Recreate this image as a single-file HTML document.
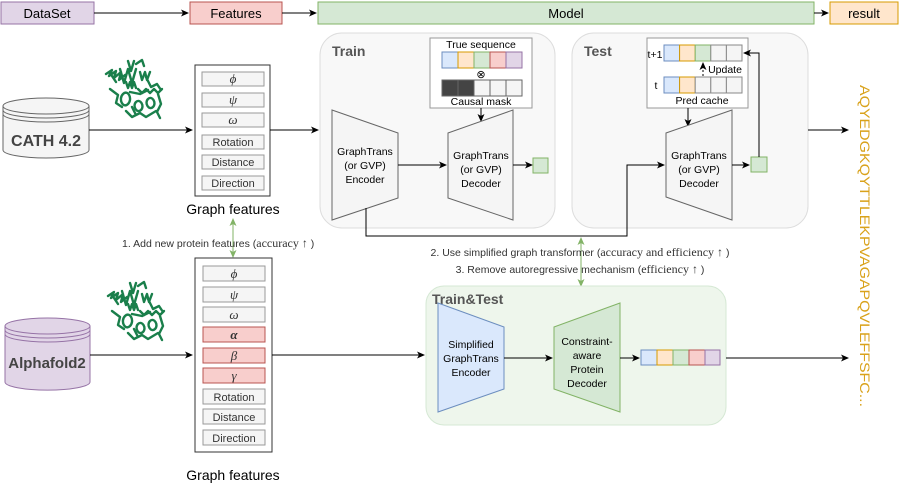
<!DOCTYPE html>
<html><head><meta charset="utf-8"><style>
html,body{margin:0;padding:0;background:#fff;}
svg{display:block;font-family:"Liberation Sans",sans-serif;}
</style></head><body>
<svg width="900" height="487" viewBox="0 0 900 487" xmlns="http://www.w3.org/2000/svg">
<defs>
<marker id="a" markerWidth="8" markerHeight="8" refX="7" refY="4" orient="auto" markerUnits="userSpaceOnUse"><path d="M0,0.5 L8,4 L0,7.5 L2,4z" fill="#000"/></marker>
<marker id="g" markerWidth="8" markerHeight="8" refX="7" refY="4" orient="auto-start-reverse" markerUnits="userSpaceOnUse"><path d="M0,0.5 L8,4 L0,7.5 L2,4z" fill="#82b366"/></marker>
<g id="prot" stroke="#1a7f4b" stroke-width="2.4" fill="none" stroke-linecap="round" stroke-linejoin="round">
<path d="M0,12 l6,-4 l-3,6 l7,-5 l-2,7 l7,-6 l-2,8 l6,-5 M14,7 l4,14 l4,-14 l4,14 l4,-14 M22,-1 l3,10 l3,-10 M30,2 l6,-4 l2,6"/>
<path d="M4,27 l8,6 l-2,8 l6,4 M17,32 c5,-5 10,5 5,10 c-5,5 -10,-5 -5,-10z M20,20 l2,6 l2,-6 l2,6 l2,-6 l2,6"/>
<path d="M32,27 l4,4 l4,-4 l4,4 l4,-4 l4,4 l4,-4 M42,37 c4,-4 9,4 5,8 c-4,4 -9,-4 -5,-8z M30,40 c4,-4 9,4 5,8 c-4,4 -9,-4 -5,-8z"/>
<path d="M20,49 l6,6 l8,-4 l6,4 l10,-6 M52,32 l3,10 l-4,8 l3,6 M26,45 l4,8 M10,20 l-4,-6 M40,15 l5,10 l6,-3 l4,6"/>
<path d="M34,10 l2,8 l3,-8 l2,8 l3,-8 M24,30 l10,2 l8,-4"/>
</g>
</defs>
<!-- header -->
<rect x="1" y="2" width="93" height="22" fill="#e1d5e7" stroke="#9673a6"/>
<text x="47" y="18" font-size="13" text-anchor="middle">DataSet</text>
<rect x="190" y="2" width="92" height="22" fill="#f8cecc" stroke="#b85450"/>
<text x="236" y="18" font-size="13" text-anchor="middle">Features</text>
<rect x="318" y="2" width="496" height="22" fill="#d5e8d4" stroke="#82b366"/>
<text x="566" y="18" font-size="13" text-anchor="middle">Model</text>
<rect x="830" y="2" width="68" height="22" fill="#ffe6cc" stroke="#d79b00"/>
<text x="864" y="18" font-size="13" text-anchor="middle">result</text>
<g stroke="#000" fill="none">
<line x1="94" y1="13" x2="188" y2="13" marker-end="url(#a)"/>
<line x1="282" y1="13" x2="316" y2="13" marker-end="url(#a)"/>
<line x1="814" y1="13" x2="828" y2="13" marker-end="url(#a)"/>
</g>

<!-- CATH cylinder -->
<g stroke="#666" fill="#f5f5f5">
<path d="M3,106 L3,150 A43,8 0 0 0 89,150 L89,106"/>
<ellipse cx="46" cy="106" rx="43" ry="8"/>
<path d="M3,110 A43,8 0 0 0 89,110 M3,114 A43,8 0 0 0 89,114" fill="none"/>
</g>
<text x="46" y="146" font-size="16" font-weight="bold" fill="#444" text-anchor="middle">CATH 4.2</text>
<line x1="89" y1="130" x2="192" y2="130" stroke="#000" marker-end="url(#a)"/>

<use href="#prot" x="106" y="62"/>

<!-- Graph features 1 -->
<rect x="195" y="65" width="75" height="131" fill="#fff" stroke="#333"/>
<g fill="#f5f5f5" stroke="#999">
<rect x="202" y="72" width="62" height="14"/><rect x="202" y="93" width="62" height="14"/><rect x="202" y="113" width="62" height="14"/>
<rect x="202" y="135" width="62" height="14"/><rect x="202" y="155" width="62" height="14"/><rect x="202" y="176" width="62" height="14"/>
</g>
<g font-size="11" text-anchor="middle" fill="#333">
<text x="233" y="83" font-family="Liberation Serif,serif" font-style="italic" font-size="13">ϕ</text>
<text x="233" y="104" font-family="Liberation Serif,serif" font-style="italic" font-size="13">ψ</text>
<text x="233" y="124" font-family="Liberation Serif,serif" font-style="italic" font-size="13">ω</text>
<text x="233" y="146">Rotation</text><text x="233" y="166">Distance</text><text x="233" y="187">Direction</text>
</g>
<text x="233" y="214" font-size="14" text-anchor="middle">Graph features</text>
<line x1="270" y1="130" x2="318" y2="130" stroke="#000" marker-end="url(#a)"/>

<!-- Train -->
<rect x="320" y="33" width="235" height="195" rx="22" fill="#f8f8f8" stroke="#ddd"/>
<text x="332" y="56" font-size="14" font-weight="bold" fill="#555">Train</text>
<rect x="430" y="38" width="102" height="70" fill="#fff" stroke="#999"/>
<text x="481" y="48" font-size="10.5" text-anchor="middle">True sequence</text>
<rect x="442" y="52" width="16" height="16" fill="#dae8fc" stroke="#6c8ebf"/>
<rect x="458" y="52" width="16" height="16" fill="#ffe6cc" stroke="#d79b00"/>
<rect x="474" y="52" width="16" height="16" fill="#d5e8d4" stroke="#82b366"/>
<rect x="490" y="52" width="16" height="16" fill="#f8cecc" stroke="#b85450"/>
<rect x="506" y="52" width="16" height="16" fill="#e1d5e7" stroke="#9673a6"/>
<text x="481" y="78" font-size="11" text-anchor="middle">⊗</text>
<g stroke="#666"><rect x="442" y="80" width="16" height="16" fill="#444"/><rect x="458" y="80" width="16" height="16" fill="#444"/>
<rect x="474" y="80" width="16" height="16" fill="#f5f5f5"/><rect x="490" y="80" width="16" height="16" fill="#f5f5f5"/><rect x="506" y="80" width="16" height="16" fill="#f5f5f5"/></g>
<text x="481" y="105" font-size="10.5" text-anchor="middle">Causal mask</text>
<line x1="481" y1="108" x2="481" y2="121" stroke="#000" marker-end="url(#a)"/>
<polygon points="332,110 398,133 398,198 332,220" fill="#f5f5f5" stroke="#666"/>
<g font-size="10.5" text-anchor="middle"><text x="365" y="155">GraphTrans</text><text x="365" y="169">(or GVP)</text><text x="365" y="183">Encoder</text></g>
<line x1="398" y1="165" x2="446" y2="165" stroke="#000" marker-end="url(#a)"/>
<polygon points="448,133 513,110 513,220 448,198" fill="#f5f5f5" stroke="#666"/>
<g font-size="10.5" text-anchor="middle"><text x="481" y="159">GraphTrans</text><text x="481" y="173">(or GVP)</text><text x="481" y="187">Decoder</text></g>
<line x1="513" y1="165" x2="532" y2="165" stroke="#000" marker-end="url(#a)"/>
<rect x="533" y="158" width="15" height="15" fill="#d5e8d4" stroke="#82b366"/>

<!-- Test -->
<rect x="572" y="33" width="236" height="195" rx="22" fill="#f8f8f8" stroke="#ddd"/>
<text x="584" y="56" font-size="14" font-weight="bold" fill="#555">Test</text>
<rect x="647" y="38" width="101" height="70" fill="#fff" stroke="#999"/>
<text x="655" y="58" font-size="10.5" text-anchor="middle">t+1</text>
<rect x="664" y="45" width="15.6" height="16" fill="#dae8fc" stroke="#6c8ebf"/>
<rect x="679.6" y="45" width="15.6" height="16" fill="#ffe6cc" stroke="#d79b00"/>
<rect x="695.2" y="45" width="15.6" height="16" fill="#d5e8d4" stroke="#82b366"/>
<rect x="710.8" y="45" width="15.6" height="16" fill="#f5f5f5" stroke="#888"/>
<rect x="726.4" y="45" width="15.6" height="16" fill="#f5f5f5" stroke="#888"/>
<text x="656" y="89" font-size="10.5" text-anchor="middle">t</text>
<rect x="664" y="77" width="15.6" height="16" fill="#dae8fc" stroke="#6c8ebf"/>
<rect x="679.6" y="77" width="15.6" height="16" fill="#ffe6cc" stroke="#d79b00"/>
<rect x="695.2" y="77" width="15.6" height="16" fill="#f5f5f5" stroke="#888"/>
<rect x="710.8" y="77" width="15.6" height="16" fill="#f5f5f5" stroke="#888"/>
<rect x="726.4" y="77" width="15.6" height="16" fill="#f5f5f5" stroke="#888"/>
<line x1="703" y1="76" x2="703" y2="63" stroke="#000" stroke-dasharray="2,2" marker-end="url(#a)"/>
<text x="725" y="73" font-size="10.5" text-anchor="middle">Update</text>
<text x="702" y="104" font-size="10.5" text-anchor="middle">Pred cache</text>
<line x1="688" y1="108" x2="688" y2="126" stroke="#000" marker-end="url(#a)"/>
<polygon points="666,133 732,110 732,220 666,197" fill="#f5f5f5" stroke="#666"/>
<g font-size="10.5" text-anchor="middle"><text x="699" y="159">GraphTrans</text><text x="699" y="173">(or GVP)</text><text x="699" y="187">Decoder</text></g>
<line x1="732" y1="165" x2="749" y2="165" stroke="#000" marker-end="url(#a)"/>
<rect x="751" y="157" width="16" height="15" fill="#d5e8d4" stroke="#82b366"/>
<polyline points="759,157 759,53 744,53" fill="none" stroke="#000" marker-end="url(#a)"/>
<line x1="808" y1="130" x2="848" y2="130" stroke="#000" marker-end="url(#a)"/>

<polyline points="366,208 366,236 627,236 627,165 664,165" fill="none" stroke="#000" marker-end="url(#a)"/>

<text transform="translate(860,85) rotate(90)" font-size="13.5" fill="#d9a21b" textLength="322" lengthAdjust="spacingAndGlyphs">AQYEDGKQYTTLEKPVAGAPQVLEFFSFC...</text>

<line x1="233" y1="219" x2="233" y2="257" stroke="#82b366" marker-start="url(#g)" marker-end="url(#g)"/>
<line x1="581" y1="238" x2="581" y2="286" stroke="#82b366" marker-start="url(#g)" marker-end="url(#g)"/>
<text x="122" y="247" font-size="10.5" fill="#333">1. Add new protein features (<tspan font-family="Liberation Serif,serif" font-size="12">accuracy ↑</tspan> )</text>
<text x="580" y="256" font-size="10.5" fill="#333" text-anchor="middle">2. Use simplified graph transformer (<tspan font-family="Liberation Serif,serif" font-size="12">accuracy and efficiency ↑</tspan> )</text>
<text x="580" y="273" font-size="10.5" fill="#333" text-anchor="middle">3. Remove autoregressive mechanism (<tspan font-family="Liberation Serif,serif" font-size="12">efficiency ↑</tspan> )</text>

<!-- Alphafold cylinder -->
<g stroke="#9673a6" fill="#e1d5e7">
<path d="M5,326 L5,382 A42,8 0 0 0 90,382 L90,326"/>
<ellipse cx="47.5" cy="326" rx="42.5" ry="8"/>
<path d="M5,330 A42.5,8 0 0 0 90,330 M5,334 A42.5,8 0 0 0 90,334" fill="none"/>
</g>
<text x="47" y="368" font-size="15" font-weight="bold" fill="#444" text-anchor="middle">Alphafold2</text>
<line x1="90" y1="355" x2="192" y2="355" stroke="#000" marker-end="url(#a)"/>

<use href="#prot" x="108" y="284"/>

<!-- Graph features 2 -->
<rect x="195" y="258" width="77" height="194" fill="#fff" stroke="#333"/>
<g fill="#f5f5f5" stroke="#999">
<rect x="203" y="266" width="62" height="15"/><rect x="203" y="287" width="62" height="15"/><rect x="203" y="307" width="62" height="15"/>
<rect x="203" y="389" width="62" height="15"/><rect x="203" y="409" width="62" height="15"/><rect x="203" y="430" width="62" height="15"/>
</g>
<g fill="#f8cecc" stroke="#b85450">
<rect x="203" y="327" width="62" height="15"/><rect x="203" y="348" width="62" height="15"/><rect x="203" y="368" width="62" height="15"/>
</g>
<g font-size="11" text-anchor="middle" fill="#333">
<text x="234" y="278" font-family="Liberation Serif,serif" font-style="italic" font-size="13">ϕ</text>
<text x="234" y="299" font-family="Liberation Serif,serif" font-style="italic" font-size="13">ψ</text>
<text x="234" y="319" font-family="Liberation Serif,serif" font-style="italic" font-size="13">ω</text>
<text x="234" y="339" font-family="Liberation Serif,serif" font-style="italic" font-weight="bold" font-size="13">α</text>
<text x="234" y="360" font-family="Liberation Serif,serif" font-style="italic" font-size="13">β</text>
<text x="234" y="380" font-family="Liberation Serif,serif" font-style="italic" font-size="13">γ</text>
<text x="234" y="401">Rotation</text><text x="234" y="421">Distance</text><text x="234" y="442">Direction</text>
</g>
<text x="233" y="480" font-size="14" text-anchor="middle">Graph features</text>
<line x1="272" y1="355" x2="424" y2="355" stroke="#000" marker-end="url(#a)"/>

<!-- Train&Test -->
<rect x="426" y="286" width="300" height="139" rx="18" fill="#eef6ec" stroke="#d5e8d4"/>
<text x="432" y="304" font-size="14" font-weight="bold" fill="#555">Train&amp;Test</text>
<polygon points="438,303 504,327 504,389 438,412" fill="#dae8fc" stroke="#6c8ebf"/>
<g font-size="10.5" text-anchor="middle"><text x="471" y="348">Simplified</text><text x="471" y="362">GraphTrans</text><text x="471" y="376">Encoder</text></g>
<line x1="504" y1="358" x2="552" y2="358" stroke="#000" marker-end="url(#a)"/>
<polygon points="554,327 620,303 620,412 554,389" fill="#d5e8d4" stroke="#82b366"/>
<g font-size="10.5" text-anchor="middle"><text x="587" y="345">Constraint-</text><text x="587" y="359">aware</text><text x="587" y="373">Protein</text><text x="587" y="387">Decoder</text></g>
<line x1="620" y1="358" x2="639" y2="358" stroke="#000" marker-end="url(#a)"/>
<rect x="641" y="350" width="16" height="15" fill="#dae8fc" stroke="#6c8ebf"/>
<rect x="657" y="350" width="16" height="15" fill="#ffe6cc" stroke="#d79b00"/>
<rect x="673" y="350" width="16" height="15" fill="#d5e8d4" stroke="#82b366"/>
<rect x="689" y="350" width="16" height="15" fill="#f8cecc" stroke="#b85450"/>
<rect x="705" y="350" width="15" height="15" fill="#e1d5e7" stroke="#9673a6"/>
<line x1="726" y1="358" x2="848" y2="358" stroke="#000" marker-end="url(#a)"/>
</svg>
</body></html>
